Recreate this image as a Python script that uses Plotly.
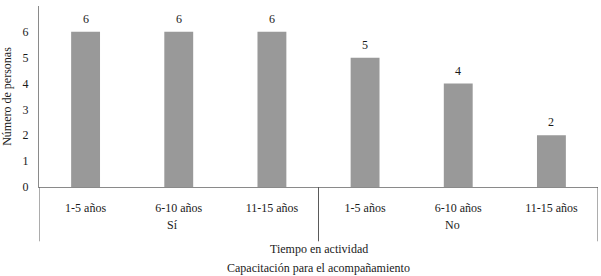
import plotly.graph_objects as go

groups = ["Sí", "Sí", "Sí", "No", "No", "No"]
periods = ["1-5 años", "6-10 años", "11-15 años", "1-5 años", "6-10 años", "11-15 años"]
values = [6, 6, 6, 5, 4, 2]
y_ticks = [0, 1, 2, 3, 4, 5, 6, 7]

FONT = "Liberation Serif"
TXT = "#1a1a1a"
pos = list(range(len(values)))

fig = go.Figure()
fig.add_trace(go.Bar(
    x=pos,
    y=values,
    marker=dict(color="#999999", line=dict(width=0)),
    width=0.31,
    hoverinfo="x+y",
))

# value labels above the bars
for p, v in zip(pos, values):
    fig.add_annotation(x=p, y=v, text=str(v), showarrow=False, yshift=13,
                       yanchor="middle",
                       font=dict(family=FONT, size=12, color=TXT))

# group labels and dividers
uniq = []
for g in groups:
    if g not in uniq:
        uniq.append(g)
edges = [-0.5]
for g in uniq:
    idx = [i for i, gg in enumerate(groups) if gg == g]
    center = sum(idx) / len(idx)
    fig.add_annotation(x=center, y=0, yref="paper", yshift=-37.5, xshift=-6,
                       yanchor="middle", text=g, showarrow=False,
                       font=dict(family=FONT, size=12, color=TXT))
    edges.append(max(idx) + 0.5)
for e in edges:
    fig.add_shape(type="line", x0=e, x1=e, xref="x", y0=0, y1=-0.30, yref="paper",
                  line=dict(color="#5a5a5a", width=1))

# axis titles (two lines)
fig.add_annotation(x=0.5, xref="paper", y=0, yref="paper", yshift=-61.5,
                   yanchor="middle", text="Tiempo en actividad", showarrow=False,
                   font=dict(family=FONT, size=12, color=TXT))
fig.add_annotation(x=0.5, xref="paper", y=0, yref="paper", yshift=-80.5,
                   yanchor="middle", text="Capacitación para el acompañamiento", showarrow=False,
                   font=dict(family=FONT, size=12, color=TXT))

fig.update_layout(
    width=601, height=276,
    margin=dict(l=39, r=3, t=6, b=88.5),
    paper_bgcolor="white", plot_bgcolor="white",
    font=dict(family=FONT, size=12, color=TXT),
    showlegend=False,
    xaxis=dict(
        range=[-0.5, 5.5], tickvals=pos, ticktext=periods,
        showline=True, linecolor="#8a8a8a", linewidth=1,
        ticks="", ticklabelstandoff=10,
        tickfont=dict(family=FONT, size=12, color=TXT),
        showgrid=False, zeroline=False, fixedrange=True,
    ),
    yaxis=dict(
        range=[0, 7], tickvals=y_ticks, showgrid=False,
        showline=True, linecolor="#8a8a8a", linewidth=1,
        ticks="", zeroline=False, ticklabelstandoff=7, fixedrange=True,
        tickfont=dict(family=FONT, size=12, color=TXT),
        title=dict(text="Número de personas", font=dict(family=FONT, size=12, color=TXT), standoff=10),
    ),
)

fig.write_html("out.html", config={"displayModeBar": False},
               post_script="document.body.style.margin='0';")
